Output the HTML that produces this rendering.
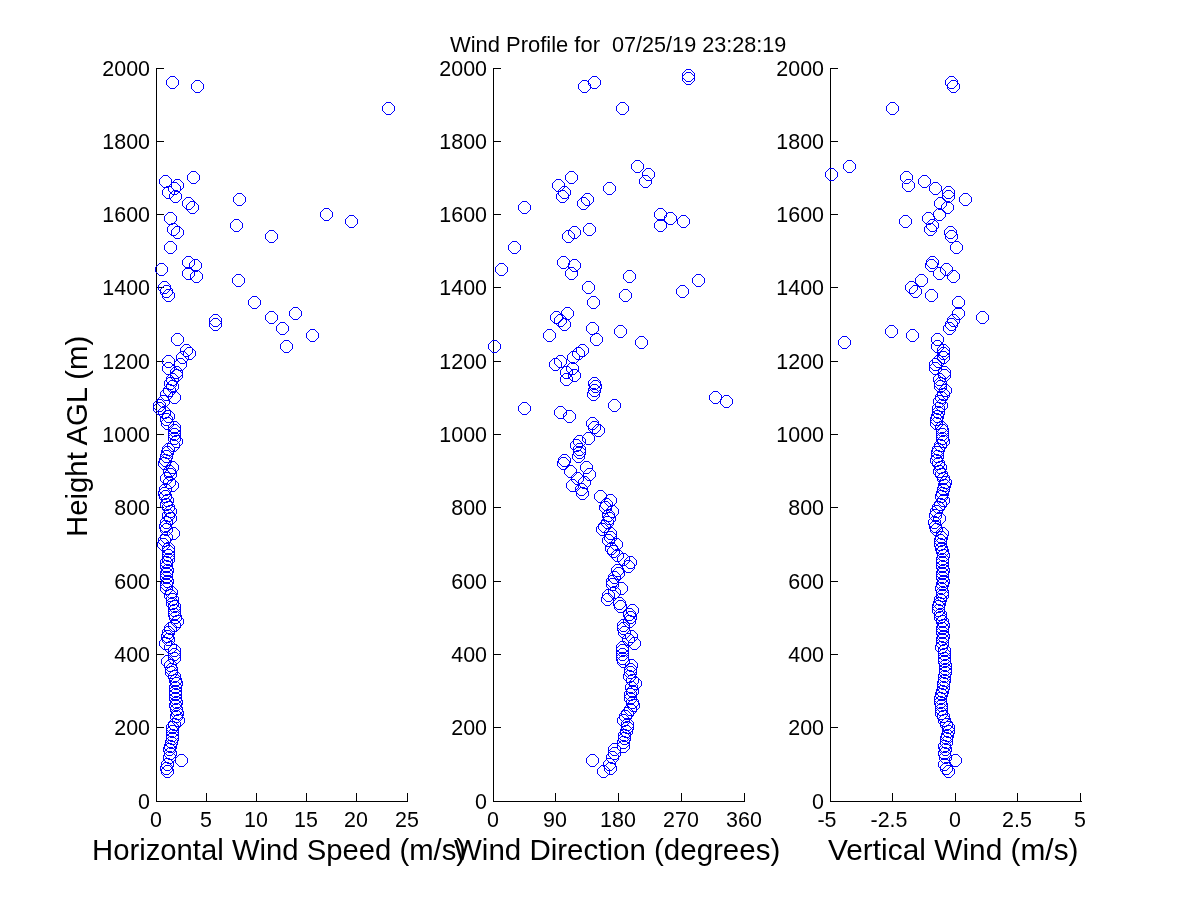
<!DOCTYPE html><html><head><meta charset="utf-8"><style>html,body{margin:0;padding:0;background:#fff;width:1200px;height:900px;overflow:hidden}svg{display:block;will-change:transform}text{font-family:"Liberation Sans",sans-serif;fill:#000}</style></head><body>
<svg width="1200" height="900" viewBox="0 0 1200 900">
<rect width="1200" height="900" fill="#fff"/>
<defs><path id="o" fill="#0000ff" shape-rendering="crispEdges" d="M-2 -6h5v1h-5zM-2 6h5v1h-5zM-6 -2h1v5h-1zM6 -2h1v5h-1zM-5 -3h1v1h-1zM-4 -4h1v1h-1zM-3 -5h1v1h-1zM3 -5h1v1h-1zM4 -4h1v1h-1zM5 -3h1v1h-1zM5 3h1v1h-1zM4 4h1v1h-1zM3 5h1v1h-1zM-3 5h1v1h-1zM-4 4h1v1h-1zM-5 3h1v1h-1z"/></defs>
<path d="M156 68h1v734h-1zM156 801h252v1h-252zM156 801h8v1h-8zM156 727h8v1h-8zM156 654h8v1h-8zM156 581h8v1h-8zM156 507h8v1h-8zM156 434h8v1h-8zM156 361h8v1h-8zM156 287h8v1h-8zM156 214h8v1h-8zM156 141h8v1h-8zM156 68h8v1h-8zM156 793h1v9h-1zM206 793h1v9h-1zM256 793h1v9h-1zM306 793h1v9h-1zM356 793h1v9h-1zM407 793h1v9h-1z" fill="#000" shape-rendering="crispEdges"/>
<text font-size="22" text-anchor="end" transform="translate(150 809.0) scale(0.975 1.0)">0</text>
<text font-size="22" text-anchor="end" transform="translate(150 735.0) scale(0.975 1.0)">200</text>
<text font-size="22" text-anchor="end" transform="translate(150 662.0) scale(0.975 1.0)">400</text>
<text font-size="22" text-anchor="end" transform="translate(150 589.0) scale(0.975 1.0)">600</text>
<text font-size="22" text-anchor="end" transform="translate(150 515.0) scale(0.975 1.0)">800</text>
<text font-size="22" text-anchor="end" transform="translate(150 442.0) scale(0.975 1.0)">1000</text>
<text font-size="22" text-anchor="end" transform="translate(150 369.0) scale(0.975 1.0)">1200</text>
<text font-size="22" text-anchor="end" transform="translate(150 295.0) scale(0.975 1.0)">1400</text>
<text font-size="22" text-anchor="end" transform="translate(150 222.0) scale(0.975 1.0)">1600</text>
<text font-size="22" text-anchor="end" transform="translate(150 149.0) scale(0.975 1.0)">1800</text>
<text font-size="22" text-anchor="end" transform="translate(150 76.0) scale(0.975 1.0)">2000</text>
<text font-size="22" text-anchor="middle" transform="translate(156.0 827.0) scale(0.975 1.0)">0</text>
<text font-size="22" text-anchor="middle" transform="translate(206.0 827.0) scale(0.975 1.0)">5</text>
<text font-size="22" text-anchor="middle" transform="translate(256.0 827.0) scale(0.975 1.0)">10</text>
<text font-size="22" text-anchor="middle" transform="translate(306.0 827.0) scale(0.975 1.0)">15</text>
<text font-size="22" text-anchor="middle" transform="translate(356.0 827.0) scale(0.975 1.0)">20</text>
<text font-size="22" text-anchor="middle" transform="translate(407.0 827.0) scale(0.975 1.0)">25</text>
<text x="92.02" y="860.0" font-size="29.5" textLength="374.05" lengthAdjust="spacingAndGlyphs">Horizontal Wind Speed (m/s)</text>
<use href="#o" x="172" y="82"/>
<use href="#o" x="197" y="86"/>
<use href="#o" x="388" y="108"/>
<use href="#o" x="193" y="177"/>
<use href="#o" x="165" y="181"/>
<use href="#o" x="177" y="185"/>
<use href="#o" x="174" y="188"/>
<use href="#o" x="168" y="192"/>
<use href="#o" x="175" y="196"/>
<use href="#o" x="239" y="199"/>
<use href="#o" x="188" y="203"/>
<use href="#o" x="192" y="207"/>
<use href="#o" x="326" y="214"/>
<use href="#o" x="170" y="218"/>
<use href="#o" x="351" y="221"/>
<use href="#o" x="236" y="225"/>
<use href="#o" x="173" y="229"/>
<use href="#o" x="177" y="232"/>
<use href="#o" x="271" y="236"/>
<use href="#o" x="170" y="247"/>
<use href="#o" x="188" y="262"/>
<use href="#o" x="195" y="265"/>
<use href="#o" x="161" y="269"/>
<use href="#o" x="188" y="273"/>
<use href="#o" x="196" y="276"/>
<use href="#o" x="238" y="280"/>
<use href="#o" x="164" y="287"/>
<use href="#o" x="166" y="291"/>
<use href="#o" x="168" y="295"/>
<use href="#o" x="254" y="302"/>
<use href="#o" x="295" y="313"/>
<use href="#o" x="271" y="317"/>
<use href="#o" x="215" y="320"/>
<use href="#o" x="215" y="324"/>
<use href="#o" x="282" y="328"/>
<use href="#o" x="312" y="335"/>
<use href="#o" x="177" y="339"/>
<use href="#o" x="286" y="346"/>
<use href="#o" x="186" y="350"/>
<use href="#o" x="189" y="353"/>
<use href="#o" x="182" y="357"/>
<use href="#o" x="168" y="361"/>
<use href="#o" x="180" y="364"/>
<use href="#o" x="168" y="368"/>
<use href="#o" x="176" y="372"/>
<use href="#o" x="176" y="375"/>
<use href="#o" x="172" y="379"/>
<use href="#o" x="170" y="383"/>
<use href="#o" x="172" y="386"/>
<use href="#o" x="169" y="390"/>
<use href="#o" x="166" y="394"/>
<use href="#o" x="174" y="397"/>
<use href="#o" x="163" y="401"/>
<use href="#o" x="159" y="405"/>
<use href="#o" x="159" y="408"/>
<use href="#o" x="164" y="412"/>
<use href="#o" x="168" y="416"/>
<use href="#o" x="166" y="419"/>
<use href="#o" x="167" y="423"/>
<use href="#o" x="174" y="427"/>
<use href="#o" x="174" y="430"/>
<use href="#o" x="174" y="434"/>
<use href="#o" x="174" y="438"/>
<use href="#o" x="176" y="441"/>
<use href="#o" x="173" y="445"/>
<use href="#o" x="168" y="449"/>
<use href="#o" x="167" y="452"/>
<use href="#o" x="166" y="456"/>
<use href="#o" x="165" y="460"/>
<use href="#o" x="164" y="463"/>
<use href="#o" x="172" y="467"/>
<use href="#o" x="169" y="471"/>
<use href="#o" x="170" y="474"/>
<use href="#o" x="166" y="478"/>
<use href="#o" x="169" y="482"/>
<use href="#o" x="172" y="485"/>
<use href="#o" x="165" y="489"/>
<use href="#o" x="164" y="493"/>
<use href="#o" x="165" y="496"/>
<use href="#o" x="167" y="500"/>
<use href="#o" x="166" y="504"/>
<use href="#o" x="168" y="507"/>
<use href="#o" x="170" y="511"/>
<use href="#o" x="168" y="515"/>
<use href="#o" x="170" y="518"/>
<use href="#o" x="166" y="522"/>
<use href="#o" x="165" y="526"/>
<use href="#o" x="166" y="529"/>
<use href="#o" x="173" y="533"/>
<use href="#o" x="166" y="537"/>
<use href="#o" x="164" y="540"/>
<use href="#o" x="163" y="544"/>
<use href="#o" x="168" y="548"/>
<use href="#o" x="168" y="551"/>
<use href="#o" x="168" y="555"/>
<use href="#o" x="168" y="559"/>
<use href="#o" x="166" y="562"/>
<use href="#o" x="166" y="566"/>
<use href="#o" x="167" y="570"/>
<use href="#o" x="166" y="573"/>
<use href="#o" x="166" y="577"/>
<use href="#o" x="167" y="581"/>
<use href="#o" x="166" y="584"/>
<use href="#o" x="166" y="588"/>
<use href="#o" x="171" y="592"/>
<use href="#o" x="170" y="595"/>
<use href="#o" x="172" y="599"/>
<use href="#o" x="172" y="603"/>
<use href="#o" x="174" y="606"/>
<use href="#o" x="174" y="610"/>
<use href="#o" x="174" y="614"/>
<use href="#o" x="175" y="617"/>
<use href="#o" x="177" y="621"/>
<use href="#o" x="174" y="625"/>
<use href="#o" x="170" y="628"/>
<use href="#o" x="168" y="632"/>
<use href="#o" x="167" y="636"/>
<use href="#o" x="168" y="639"/>
<use href="#o" x="165" y="643"/>
<use href="#o" x="170" y="647"/>
<use href="#o" x="174" y="650"/>
<use href="#o" x="174" y="654"/>
<use href="#o" x="174" y="658"/>
<use href="#o" x="167" y="661"/>
<use href="#o" x="170" y="665"/>
<use href="#o" x="171" y="669"/>
<use href="#o" x="171" y="672"/>
<use href="#o" x="174" y="676"/>
<use href="#o" x="175" y="680"/>
<use href="#o" x="176" y="683"/>
<use href="#o" x="175" y="687"/>
<use href="#o" x="175" y="691"/>
<use href="#o" x="175" y="694"/>
<use href="#o" x="175" y="698"/>
<use href="#o" x="176" y="702"/>
<use href="#o" x="175" y="705"/>
<use href="#o" x="176" y="709"/>
<use href="#o" x="177" y="713"/>
<use href="#o" x="176" y="716"/>
<use href="#o" x="178" y="720"/>
<use href="#o" x="174" y="724"/>
<use href="#o" x="172" y="727"/>
<use href="#o" x="172" y="731"/>
<use href="#o" x="172" y="735"/>
<use href="#o" x="172" y="738"/>
<use href="#o" x="171" y="742"/>
<use href="#o" x="170" y="746"/>
<use href="#o" x="169" y="749"/>
<use href="#o" x="170" y="753"/>
<use href="#o" x="169" y="757"/>
<use href="#o" x="181" y="760"/>
<use href="#o" x="167" y="764"/>
<use href="#o" x="166" y="768"/>
<use href="#o" x="167" y="771"/>
<path d="M493 68h1v734h-1zM493 801h252v1h-252zM493 801h8v1h-8zM493 727h8v1h-8zM493 654h8v1h-8zM493 581h8v1h-8zM493 507h8v1h-8zM493 434h8v1h-8zM493 361h8v1h-8zM493 287h8v1h-8zM493 214h8v1h-8zM493 141h8v1h-8zM493 68h8v1h-8zM493 793h1v9h-1zM555 793h1v9h-1zM618 793h1v9h-1zM681 793h1v9h-1zM744 793h1v9h-1z" fill="#000" shape-rendering="crispEdges"/>
<text font-size="22" text-anchor="end" transform="translate(487 809.0) scale(0.975 1.0)">0</text>
<text font-size="22" text-anchor="end" transform="translate(487 735.0) scale(0.975 1.0)">200</text>
<text font-size="22" text-anchor="end" transform="translate(487 662.0) scale(0.975 1.0)">400</text>
<text font-size="22" text-anchor="end" transform="translate(487 589.0) scale(0.975 1.0)">600</text>
<text font-size="22" text-anchor="end" transform="translate(487 515.0) scale(0.975 1.0)">800</text>
<text font-size="22" text-anchor="end" transform="translate(487 442.0) scale(0.975 1.0)">1000</text>
<text font-size="22" text-anchor="end" transform="translate(487 369.0) scale(0.975 1.0)">1200</text>
<text font-size="22" text-anchor="end" transform="translate(487 295.0) scale(0.975 1.0)">1400</text>
<text font-size="22" text-anchor="end" transform="translate(487 222.0) scale(0.975 1.0)">1600</text>
<text font-size="22" text-anchor="end" transform="translate(487 149.0) scale(0.975 1.0)">1800</text>
<text font-size="22" text-anchor="end" transform="translate(487 76.0) scale(0.975 1.0)">2000</text>
<text font-size="22" text-anchor="middle" transform="translate(493.0 827.0) scale(0.975 1.0)">0</text>
<text font-size="22" text-anchor="middle" transform="translate(555.0 827.0) scale(0.975 1.0)">90</text>
<text font-size="22" text-anchor="middle" transform="translate(618.0 827.0) scale(0.975 1.0)">180</text>
<text font-size="22" text-anchor="middle" transform="translate(681.0 827.0) scale(0.975 1.0)">270</text>
<text font-size="22" text-anchor="middle" transform="translate(744.0 827.0) scale(0.975 1.0)">360</text>
<text x="454.00" y="860.0" font-size="29.5" textLength="326.27" lengthAdjust="spacingAndGlyphs">Wind Direction (degrees)</text>
<use href="#o" x="688" y="75"/>
<use href="#o" x="688" y="78"/>
<use href="#o" x="594" y="82"/>
<use href="#o" x="584" y="86"/>
<use href="#o" x="622" y="108"/>
<use href="#o" x="637" y="166"/>
<use href="#o" x="648" y="174"/>
<use href="#o" x="571" y="177"/>
<use href="#o" x="645" y="181"/>
<use href="#o" x="558" y="185"/>
<use href="#o" x="609" y="188"/>
<use href="#o" x="564" y="192"/>
<use href="#o" x="562" y="196"/>
<use href="#o" x="587" y="199"/>
<use href="#o" x="583" y="203"/>
<use href="#o" x="524" y="207"/>
<use href="#o" x="660" y="214"/>
<use href="#o" x="670" y="218"/>
<use href="#o" x="683" y="221"/>
<use href="#o" x="660" y="225"/>
<use href="#o" x="589" y="229"/>
<use href="#o" x="574" y="232"/>
<use href="#o" x="568" y="236"/>
<use href="#o" x="514" y="247"/>
<use href="#o" x="563" y="262"/>
<use href="#o" x="574" y="265"/>
<use href="#o" x="501" y="269"/>
<use href="#o" x="571" y="273"/>
<use href="#o" x="629" y="276"/>
<use href="#o" x="698" y="280"/>
<use href="#o" x="588" y="287"/>
<use href="#o" x="682" y="291"/>
<use href="#o" x="625" y="295"/>
<use href="#o" x="593" y="302"/>
<use href="#o" x="567" y="313"/>
<use href="#o" x="556" y="317"/>
<use href="#o" x="560" y="320"/>
<use href="#o" x="564" y="324"/>
<use href="#o" x="592" y="328"/>
<use href="#o" x="620" y="331"/>
<use href="#o" x="549" y="335"/>
<use href="#o" x="596" y="339"/>
<use href="#o" x="641" y="342"/>
<use href="#o" x="494" y="346"/>
<use href="#o" x="582" y="350"/>
<use href="#o" x="578" y="353"/>
<use href="#o" x="573" y="357"/>
<use href="#o" x="560" y="361"/>
<use href="#o" x="555" y="364"/>
<use href="#o" x="572" y="368"/>
<use href="#o" x="566" y="372"/>
<use href="#o" x="574" y="375"/>
<use href="#o" x="566" y="379"/>
<use href="#o" x="594" y="383"/>
<use href="#o" x="595" y="386"/>
<use href="#o" x="594" y="390"/>
<use href="#o" x="593" y="394"/>
<use href="#o" x="715" y="397"/>
<use href="#o" x="726" y="401"/>
<use href="#o" x="614" y="405"/>
<use href="#o" x="524" y="408"/>
<use href="#o" x="560" y="412"/>
<use href="#o" x="569" y="416"/>
<use href="#o" x="592" y="423"/>
<use href="#o" x="594" y="427"/>
<use href="#o" x="598" y="430"/>
<use href="#o" x="588" y="438"/>
<use href="#o" x="579" y="441"/>
<use href="#o" x="576" y="445"/>
<use href="#o" x="579" y="449"/>
<use href="#o" x="579" y="452"/>
<use href="#o" x="578" y="456"/>
<use href="#o" x="564" y="460"/>
<use href="#o" x="563" y="463"/>
<use href="#o" x="586" y="467"/>
<use href="#o" x="570" y="471"/>
<use href="#o" x="589" y="474"/>
<use href="#o" x="577" y="478"/>
<use href="#o" x="584" y="482"/>
<use href="#o" x="572" y="485"/>
<use href="#o" x="581" y="489"/>
<use href="#o" x="582" y="493"/>
<use href="#o" x="600" y="496"/>
<use href="#o" x="610" y="500"/>
<use href="#o" x="606" y="504"/>
<use href="#o" x="605" y="507"/>
<use href="#o" x="612" y="511"/>
<use href="#o" x="608" y="515"/>
<use href="#o" x="609" y="518"/>
<use href="#o" x="607" y="522"/>
<use href="#o" x="604" y="526"/>
<use href="#o" x="602" y="529"/>
<use href="#o" x="610" y="533"/>
<use href="#o" x="610" y="537"/>
<use href="#o" x="608" y="540"/>
<use href="#o" x="616" y="544"/>
<use href="#o" x="611" y="548"/>
<use href="#o" x="613" y="551"/>
<use href="#o" x="617" y="555"/>
<use href="#o" x="623" y="559"/>
<use href="#o" x="630" y="562"/>
<use href="#o" x="628" y="566"/>
<use href="#o" x="617" y="570"/>
<use href="#o" x="618" y="573"/>
<use href="#o" x="614" y="577"/>
<use href="#o" x="612" y="581"/>
<use href="#o" x="612" y="584"/>
<use href="#o" x="621" y="588"/>
<use href="#o" x="614" y="592"/>
<use href="#o" x="608" y="595"/>
<use href="#o" x="607" y="599"/>
<use href="#o" x="619" y="603"/>
<use href="#o" x="620" y="606"/>
<use href="#o" x="632" y="610"/>
<use href="#o" x="629" y="614"/>
<use href="#o" x="630" y="617"/>
<use href="#o" x="629" y="621"/>
<use href="#o" x="623" y="625"/>
<use href="#o" x="623" y="628"/>
<use href="#o" x="624" y="632"/>
<use href="#o" x="631" y="636"/>
<use href="#o" x="628" y="639"/>
<use href="#o" x="634" y="643"/>
<use href="#o" x="622" y="647"/>
<use href="#o" x="622" y="650"/>
<use href="#o" x="622" y="654"/>
<use href="#o" x="622" y="658"/>
<use href="#o" x="623" y="661"/>
<use href="#o" x="631" y="665"/>
<use href="#o" x="630" y="669"/>
<use href="#o" x="630" y="672"/>
<use href="#o" x="629" y="676"/>
<use href="#o" x="632" y="680"/>
<use href="#o" x="635" y="683"/>
<use href="#o" x="631" y="687"/>
<use href="#o" x="632" y="691"/>
<use href="#o" x="630" y="694"/>
<use href="#o" x="630" y="698"/>
<use href="#o" x="632" y="702"/>
<use href="#o" x="633" y="705"/>
<use href="#o" x="630" y="709"/>
<use href="#o" x="627" y="713"/>
<use href="#o" x="625" y="716"/>
<use href="#o" x="623" y="720"/>
<use href="#o" x="627" y="724"/>
<use href="#o" x="627" y="727"/>
<use href="#o" x="626" y="731"/>
<use href="#o" x="624" y="735"/>
<use href="#o" x="624" y="738"/>
<use href="#o" x="623" y="742"/>
<use href="#o" x="623" y="746"/>
<use href="#o" x="614" y="749"/>
<use href="#o" x="614" y="753"/>
<use href="#o" x="612" y="757"/>
<use href="#o" x="592" y="760"/>
<use href="#o" x="609" y="764"/>
<use href="#o" x="610" y="768"/>
<use href="#o" x="603" y="771"/>
<path d="M830 68h1v734h-1zM830 801h252v1h-252zM830 801h8v1h-8zM830 727h8v1h-8zM830 654h8v1h-8zM830 581h8v1h-8zM830 507h8v1h-8zM830 434h8v1h-8zM830 361h8v1h-8zM830 287h8v1h-8zM830 214h8v1h-8zM830 141h8v1h-8zM830 68h8v1h-8zM830 793h1v9h-1zM892 793h1v9h-1zM955 793h1v9h-1zM1017 793h1v9h-1zM1080 793h1v9h-1z" fill="#000" shape-rendering="crispEdges"/>
<text font-size="22" text-anchor="end" transform="translate(824 809.0) scale(0.975 1.0)">0</text>
<text font-size="22" text-anchor="end" transform="translate(824 735.0) scale(0.975 1.0)">200</text>
<text font-size="22" text-anchor="end" transform="translate(824 662.0) scale(0.975 1.0)">400</text>
<text font-size="22" text-anchor="end" transform="translate(824 589.0) scale(0.975 1.0)">600</text>
<text font-size="22" text-anchor="end" transform="translate(824 515.0) scale(0.975 1.0)">800</text>
<text font-size="22" text-anchor="end" transform="translate(824 442.0) scale(0.975 1.0)">1000</text>
<text font-size="22" text-anchor="end" transform="translate(824 369.0) scale(0.975 1.0)">1200</text>
<text font-size="22" text-anchor="end" transform="translate(824 295.0) scale(0.975 1.0)">1400</text>
<text font-size="22" text-anchor="end" transform="translate(824 222.0) scale(0.975 1.0)">1600</text>
<text font-size="22" text-anchor="end" transform="translate(824 149.0) scale(0.975 1.0)">1800</text>
<text font-size="22" text-anchor="end" transform="translate(824 76.0) scale(0.975 1.0)">2000</text>
<text font-size="22" text-anchor="middle" transform="translate(827.0 827.0) scale(0.975 1.0)">-5</text>
<text font-size="22" text-anchor="middle" transform="translate(889.0 827.0) scale(0.975 1.0)">-2.5</text>
<text font-size="22" text-anchor="middle" transform="translate(955.0 827.0) scale(0.975 1.0)">0</text>
<text font-size="22" text-anchor="middle" transform="translate(1017.0 827.0) scale(0.975 1.0)">2.5</text>
<text font-size="22" text-anchor="middle" transform="translate(1080.0 827.0) scale(0.975 1.0)">5</text>
<text x="828.00" y="860.0" font-size="29.5" textLength="250.53" lengthAdjust="spacingAndGlyphs">Vertical Wind (m/s)</text>
<use href="#o" x="951" y="82"/>
<use href="#o" x="953" y="86"/>
<use href="#o" x="892" y="108"/>
<use href="#o" x="849" y="166"/>
<use href="#o" x="831" y="174"/>
<use href="#o" x="906" y="177"/>
<use href="#o" x="924" y="181"/>
<use href="#o" x="908" y="185"/>
<use href="#o" x="935" y="188"/>
<use href="#o" x="948" y="192"/>
<use href="#o" x="948" y="196"/>
<use href="#o" x="965" y="199"/>
<use href="#o" x="940" y="203"/>
<use href="#o" x="947" y="207"/>
<use href="#o" x="939" y="214"/>
<use href="#o" x="928" y="218"/>
<use href="#o" x="905" y="221"/>
<use href="#o" x="932" y="225"/>
<use href="#o" x="930" y="229"/>
<use href="#o" x="950" y="232"/>
<use href="#o" x="951" y="236"/>
<use href="#o" x="956" y="247"/>
<use href="#o" x="932" y="262"/>
<use href="#o" x="931" y="265"/>
<use href="#o" x="946" y="269"/>
<use href="#o" x="939" y="273"/>
<use href="#o" x="953" y="276"/>
<use href="#o" x="921" y="280"/>
<use href="#o" x="911" y="287"/>
<use href="#o" x="915" y="291"/>
<use href="#o" x="931" y="295"/>
<use href="#o" x="958" y="302"/>
<use href="#o" x="958" y="313"/>
<use href="#o" x="982" y="317"/>
<use href="#o" x="953" y="320"/>
<use href="#o" x="951" y="324"/>
<use href="#o" x="949" y="328"/>
<use href="#o" x="891" y="331"/>
<use href="#o" x="912" y="335"/>
<use href="#o" x="937" y="339"/>
<use href="#o" x="844" y="342"/>
<use href="#o" x="937" y="346"/>
<use href="#o" x="943" y="350"/>
<use href="#o" x="943" y="353"/>
<use href="#o" x="943" y="357"/>
<use href="#o" x="938" y="361"/>
<use href="#o" x="935" y="364"/>
<use href="#o" x="935" y="368"/>
<use href="#o" x="944" y="372"/>
<use href="#o" x="944" y="375"/>
<use href="#o" x="939" y="379"/>
<use href="#o" x="940" y="383"/>
<use href="#o" x="940" y="386"/>
<use href="#o" x="945" y="390"/>
<use href="#o" x="943" y="394"/>
<use href="#o" x="941" y="397"/>
<use href="#o" x="939" y="401"/>
<use href="#o" x="941" y="405"/>
<use href="#o" x="938" y="408"/>
<use href="#o" x="938" y="412"/>
<use href="#o" x="937" y="416"/>
<use href="#o" x="936" y="419"/>
<use href="#o" x="936" y="423"/>
<use href="#o" x="941" y="427"/>
<use href="#o" x="942" y="430"/>
<use href="#o" x="942" y="434"/>
<use href="#o" x="942" y="438"/>
<use href="#o" x="943" y="441"/>
<use href="#o" x="940" y="445"/>
<use href="#o" x="938" y="449"/>
<use href="#o" x="937" y="452"/>
<use href="#o" x="937" y="456"/>
<use href="#o" x="936" y="460"/>
<use href="#o" x="938" y="463"/>
<use href="#o" x="940" y="467"/>
<use href="#o" x="939" y="471"/>
<use href="#o" x="941" y="474"/>
<use href="#o" x="943" y="478"/>
<use href="#o" x="945" y="482"/>
<use href="#o" x="944" y="485"/>
<use href="#o" x="943" y="489"/>
<use href="#o" x="942" y="493"/>
<use href="#o" x="941" y="496"/>
<use href="#o" x="943" y="500"/>
<use href="#o" x="940" y="504"/>
<use href="#o" x="938" y="507"/>
<use href="#o" x="936" y="511"/>
<use href="#o" x="935" y="515"/>
<use href="#o" x="939" y="518"/>
<use href="#o" x="934" y="522"/>
<use href="#o" x="935" y="526"/>
<use href="#o" x="936" y="529"/>
<use href="#o" x="942" y="533"/>
<use href="#o" x="941" y="537"/>
<use href="#o" x="940" y="540"/>
<use href="#o" x="940" y="544"/>
<use href="#o" x="941" y="548"/>
<use href="#o" x="942" y="551"/>
<use href="#o" x="943" y="555"/>
<use href="#o" x="942" y="559"/>
<use href="#o" x="942" y="562"/>
<use href="#o" x="942" y="566"/>
<use href="#o" x="943" y="570"/>
<use href="#o" x="942" y="573"/>
<use href="#o" x="942" y="577"/>
<use href="#o" x="943" y="581"/>
<use href="#o" x="942" y="584"/>
<use href="#o" x="941" y="588"/>
<use href="#o" x="942" y="592"/>
<use href="#o" x="942" y="595"/>
<use href="#o" x="940" y="599"/>
<use href="#o" x="939" y="603"/>
<use href="#o" x="938" y="606"/>
<use href="#o" x="938" y="610"/>
<use href="#o" x="940" y="614"/>
<use href="#o" x="940" y="617"/>
<use href="#o" x="942" y="621"/>
<use href="#o" x="943" y="625"/>
<use href="#o" x="942" y="628"/>
<use href="#o" x="942" y="632"/>
<use href="#o" x="943" y="636"/>
<use href="#o" x="942" y="639"/>
<use href="#o" x="942" y="643"/>
<use href="#o" x="941" y="647"/>
<use href="#o" x="944" y="650"/>
<use href="#o" x="944" y="654"/>
<use href="#o" x="944" y="658"/>
<use href="#o" x="944" y="661"/>
<use href="#o" x="945" y="665"/>
<use href="#o" x="945" y="669"/>
<use href="#o" x="945" y="672"/>
<use href="#o" x="944" y="676"/>
<use href="#o" x="944" y="680"/>
<use href="#o" x="943" y="683"/>
<use href="#o" x="943" y="687"/>
<use href="#o" x="942" y="691"/>
<use href="#o" x="941" y="694"/>
<use href="#o" x="940" y="698"/>
<use href="#o" x="940" y="702"/>
<use href="#o" x="941" y="705"/>
<use href="#o" x="941" y="709"/>
<use href="#o" x="941" y="713"/>
<use href="#o" x="943" y="716"/>
<use href="#o" x="944" y="720"/>
<use href="#o" x="946" y="724"/>
<use href="#o" x="948" y="727"/>
<use href="#o" x="948" y="731"/>
<use href="#o" x="947" y="735"/>
<use href="#o" x="946" y="738"/>
<use href="#o" x="946" y="742"/>
<use href="#o" x="944" y="746"/>
<use href="#o" x="945" y="749"/>
<use href="#o" x="944" y="753"/>
<use href="#o" x="945" y="757"/>
<use href="#o" x="955" y="760"/>
<use href="#o" x="944" y="764"/>
<use href="#o" x="946" y="768"/>
<use href="#o" x="948" y="771"/>
<text x="0" y="0" font-size="29.5" textLength="201.18" lengthAdjust="spacingAndGlyphs" transform="translate(87.0 536.99) rotate(-90)">Height AGL (m)</text>
<text x="450.00" y="52.0" font-size="21.5" textLength="149.97" lengthAdjust="spacingAndGlyphs">Wind Profile for</text>
<text x="611.99" y="52.0" font-size="21.5" textLength="174.37" lengthAdjust="spacingAndGlyphs">07/25/19 23:28:19</text>
</svg></body></html>
